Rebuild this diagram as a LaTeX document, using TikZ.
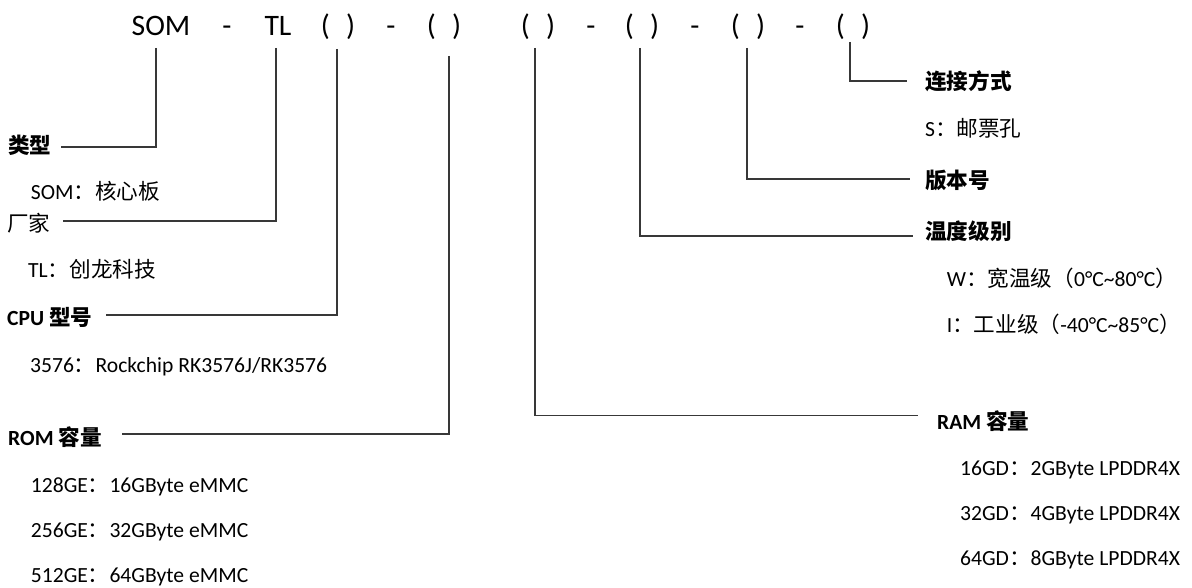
\documentclass[tikz,border=0pt]{standalone}
\usepackage{fontspec}
\setmainfont{Carlito}
\newfontfamily\cjk{Noto Sans CJK SC}
\newcommand{\zh}[1]{{\cjk #1}}

\tikzset{
	head/.style={font=\fontsize{29.7}{32}\selectfont, anchor=base, inner sep=0pt},
	lab/.style={font=\fontsize{21.6}{24}\selectfont\bfseries, anchor=west, inner sep=0pt, text height=15pt, text depth=1pt},
	item/.style={lab, font=\fontsize{21.6}{24}\selectfont},
	link/.style={draw=black!78, line width=1.4pt},
}

\begin{document}
\begin{tikzpicture}[x=1pt, y=-1pt]
	\useasboundingbox (0,0) rectangle (1192,588);
	% model code
	\node[head] (som) at (161,36) {SOM};
	\node[head] (d1) at (227,36) {-};
	\node[head] (tl) at (278,36) {TL};
	\node[head] (p1) at (338,36) {(\hspace{0.55em})};
	\node[head] (d2) at (391,36) {-};
	\node[head] (p2) at (444,36) {(\hspace{0.55em})};
	\node[head] (p3) at (538,36) {(\hspace{0.55em})};
	\node[head] (d3) at (591,36) {-};
	\node[head] (p4) at (642,36) {(\hspace{0.55em})};
	\node[head] (d4) at (695,36) {-};
	\node[head] (p5) at (748,36) {(\hspace{0.55em})};
	\node[head] (d5) at (800,36) {-};
	\node[head] (p6) at (853,36) {(\hspace{0.55em})};
	\coordinate (s1) at (156,48);
	\coordinate (s2) at (276,48);
	\coordinate (s3) at (337,49);
	\coordinate (s4) at (449,56);
	\coordinate (s5) at (535,48);
	\coordinate (s6) at (640,48);
	\coordinate (s7) at (747,48);
	\coordinate (s8) at (850,42);

	% left side
	\node[lab] (type) at (8,147) {\zh{类型}};
	\node[item] (typeA) at (30.7,193) {SOM\zh{：核心板}};
	\node[item] (maker) at (7,225) {\zh{厂家}};
	\node[item] (makerA) at (28,270) {TL\zh{：创龙科技}};
	\node[lab] (cpu) at (7,318) {CPU \zh{型号}};
	\node[item] (cpuA) at (30,365) {3576\zh{：}Rockchip RK3576J/RK3576};
	\node[lab] (rom) at (8,438) {ROM \zh{容量}};
	\node[item] (romA) at (30.7,485) {128GE\zh{：}16GByte eMMC};
	\node[item] (romB) at (30.7,530) {256GE\zh{：}32GByte eMMC};
	\node[item] (romC) at (30.7,575) {512GE\zh{：}64GByte eMMC};

	% right side
	\node[lab] (conn) at (925,83) {\zh{连接方式}};
	\node[item] (connA) at (925,130) {S\zh{：邮票孔}};
	\node[lab] (ver) at (925,182) {\zh{版本号}};
	\node[lab] (temp) at (925,233) {\zh{温度级别}};
	\node[item] (tempA) at (946.7,280) {W\zh{：宽温级（}0°C\textasciitilde80°C\zh{）}};
	\node[item] (tempB) at (946.7,325) {I\zh{：工业级（}-40°C\textasciitilde85°C\zh{）}};
	\node[lab] (ram) at (937,422) {RAM \zh{容量}};
	\node[item] (ramA) at (960,468) {16GD\zh{：}2GByte LPDDR4X};
	\node[item] (ramB) at (960,513) {32GD\zh{：}4GByte LPDDR4X};
	\node[item] (ramC) at (960,558) {64GD\zh{：}8GByte LPDDR4X};

	\draw[link, shorten >=9pt] (s1) |- (type.east);
	\draw[link, shorten >=12pt] (s2) |- ([yshift=4pt]maker.east);
	\draw[link, shorten >=13pt] (s3) |- ([yshift=3pt]cpu.east);
	\draw[link, shorten >=20pt] (s4) |- ([yshift=4pt]rom.east);
	\draw[link, shorten >=19pt] (s5) |- ([yshift=6.5pt]ram.west);
	\draw[link, shorten >=12pt] (s6) |- ([yshift=-3pt]temp.west);
	\draw[link, shorten >=15pt] (s7) |- ([yshift=3pt]ver.west);
	\draw[link, shorten >=18pt] (s8) |- ([yshift=2pt]conn.west);
\end{tikzpicture}
\end{document}
